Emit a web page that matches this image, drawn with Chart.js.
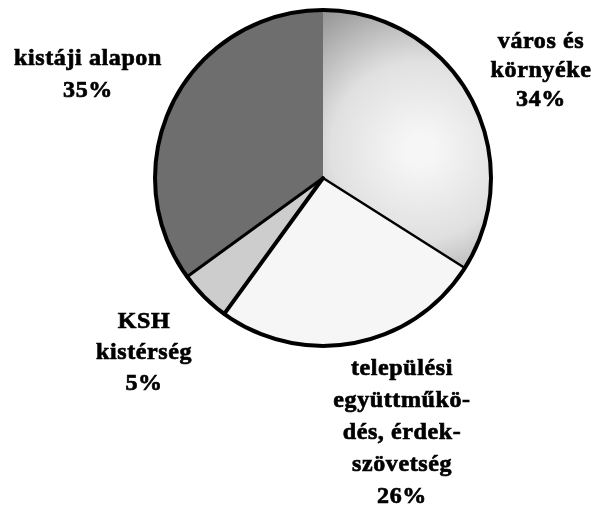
<!DOCTYPE html>
<html>
<head>
<meta charset="utf-8">
<script src="https://cdn.jsdelivr.net/npm/chart.js@4.4.1/dist/chart.umd.min.js"></script>
<style>
  html, body { margin: 0; padding: 0; background: #fff; }
</style>
</head>
<body>
<canvas id="myChart" width="597" height="518"></canvas>
<script>
// slices, clockwise from 12 o'clock
var labels = [
    ['város és', 'környéke'],
    ['települési', 'együttműkö-', 'dés, érdek-', 'szövetség'],
    ['KSH', 'kistérség'],
    ['kistáji alapon']
];
var values = [34, 26, 5, 35];

// where each label block sits: center x, first baseline, line step
var labelPos = [
    {x: 541, y: 48, step: 29},
    {x: 402, y: 375, step: 32},
    {x: 144, y: 328, step: 31},
    {x: 88, y: 65, step: 32}
];
// width of the dividing line at the start of each slice (0 = none)
var edgeWidth = [0, 2.5, 4, 3];

function sliceColor(context) {
    var i = context.dataIndex;
    if (i === 0) {
        var c = context.chart.ctx;
        var g = c.createRadialGradient(420, 150, 15, 420, 150, 180);
        g.addColorStop(0, '#f6f6f6');
        g.addColorStop(0.45, '#e0e0e0');
        g.addColorStop(1, '#8a8a8a');
        return g;
    }
    return ['#000', '#f6f6f6', '#cdcdcd', '#6e6e6e'][i];
}

var outlinePlugin = {
    id: 'outline',
    afterDatasetsDraw: function(chart) {
        var ctx = chart.ctx;
        var arcs = chart.getDatasetMeta(0).data;
        var cx = arcs[0].x, cy = arcs[0].y, r = arcs[0].outerRadius;
        ctx.save();
        ctx.strokeStyle = '#000';
        ctx.lineCap = 'round';
        for (var i = 0; i < arcs.length; i++) {
            if (!edgeWidth[i]) continue;
            var a = arcs[i].startAngle;
            ctx.lineWidth = edgeWidth[i];
            ctx.beginPath();
            ctx.moveTo(cx, cy);
            ctx.lineTo(cx + r * Math.cos(a), cy + r * Math.sin(a));
            ctx.stroke();
        }
        ctx.lineWidth = 4;
        ctx.beginPath();
        ctx.arc(cx, cy, r, 0, Math.PI * 2);
        ctx.stroke();
        ctx.restore();
    }
};

var textPlugin = {
    id: 'sliceText',
    afterDraw: function(chart) {
        var ctx = chart.ctx;
        ctx.save();
        ctx.fillStyle = '#000';
        ctx.strokeStyle = '#000';
        ctx.lineWidth = 0.7;
        ctx.font = 'bold 24px "Liberation Serif", "Times New Roman", serif';
        ctx.textAlign = 'center';
        ctx.textBaseline = 'alphabetic';
        if ('letterSpacing' in ctx) ctx.letterSpacing = '0.6px';
        for (var i = 0; i < labels.length; i++) {
            var lines = labels[i].concat([values[i] + '%']);
            var p = labelPos[i];
            for (var j = 0; j < lines.length; j++) {
                ctx.fillText(lines[j], p.x, p.y + j * p.step);
                ctx.strokeText(lines[j], p.x, p.y + j * p.step);
            }
        }
        ctx.restore();
    }
};

var ctx = document.getElementById('myChart').getContext('2d');
var chart = new Chart(ctx, {
    type: 'pie',
    data: {
        labels: labels,
        datasets: [{
            data: values,
            backgroundColor: sliceColor,
            borderWidth: 0
        }]
    },
    options: {
        responsive: false,
        animation: false,
        rotation: 0,
        layout: {
            padding: {left: 155, right: 106, top: 10, bottom: 172}
        },
        plugins: {
            legend: {display: false},
            tooltip: {enabled: false}
        }
    },
    plugins: [outlinePlugin, textPlugin]
});
</script>
</body>
</html>
